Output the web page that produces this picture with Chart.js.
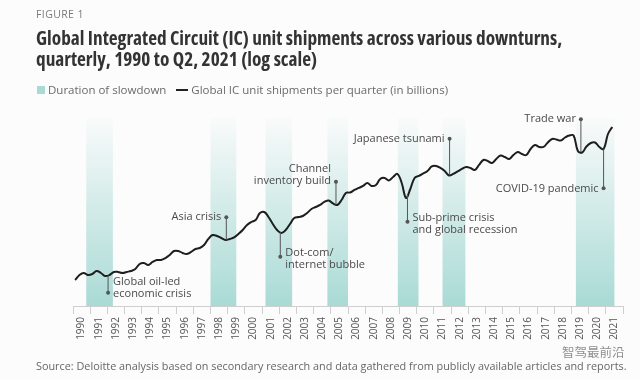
<!DOCTYPE html>
<html>
<head>
<meta charset="utf-8">
<script src="https://cdn.jsdelivr.net/npm/chart.js@4.4.1/dist/chart.umd.min.js"></script>
<style>
body{margin:0;width:640px;height:380px;position:relative;background:#fcfcfc;font-family:"Open Sans",sans-serif;overflow:hidden}
canvas{position:absolute;left:0;top:0}
.fig{position:absolute;left:36px;top:7px;font-size:10.5px;color:#7a7a7a;letter-spacing:.4px}
.title{position:absolute;left:36px;top:27px;font-size:19.3px;font-weight:700;line-height:21px;color:#333;font-stretch:75%;white-space:nowrap}
.legend{position:absolute;left:37px;top:82px;font-size:11.5px;color:#6a6a6a;white-space:nowrap}
.legend .sw{display:inline-block;width:8px;height:8px;background:#a9dad5;margin-right:3px}
.legend .ln{display:inline-block;width:12px;height:2px;background:#222;vertical-align:middle;margin:0 3px 0 10px;position:relative;top:-1px}
.source{position:absolute;left:36px;top:358px;font-size:10.85px;color:#666;white-space:nowrap}
.wm{position:absolute;left:562px;top:342px;font-size:12.5px;color:#8f8f8f;font-family:"Noto Sans CJK SC",sans-serif;text-shadow:0 0 2px #fff}
</style>
</head>
<body>
<canvas id="icChart" width="640" height="380"></canvas>
<div class="fig">FIGURE 1</div>
<div class="title">Global Integrated Circuit (IC) unit shipments across various downturns,<br>quarterly, 1990 to Q2, 2021 (log scale)</div>
<div class="legend"><span class="sw"></span>Duration of slowdown<span class="ln"></span>Global IC unit shipments per quarter (in billions)</div>
<div class="source">Source: Deloitte analysis based on secondary research and data gathered from publicly available articles and reports.</div>
<div class="wm">智驾最前沿</div>
<script>
// tick labels, one per year
const years = ["1990","1991","1992","1993","1994","1995","1996","1997","1998","1999","2000",
"2001","2002","2003","2004","2005","2006","2007","2008","2009","2010",
"2011","2012","2013","2014","2015","2016","2017","2018","2019","2020","2021"];

// quarterly IC units (billions), Q1 1990 .. Q2 2021
const shipments = [
9.08,9.83,10.16,9.83,   // 1990
9.99,10.48,10.15,9.68,  // 1991
9.83,10.32,10.32,10.15, // 1992
10.32,10.48,10.82,11.72,// 1993
11.91,11.53,12.10,12.49,// 1994
12.49,12.89,13.52,14.42,// 1995
14.42,13.97,13.74,14.19,// 1996
14.88,15.12,15.86,17.46,// 1997
18.60,18.31,17.74,17.18,// 1998
17.46,17.88,18.90,20.14,// 1999
21.81,22.88,23.62,26.41,// 2000
26.83,24.78,22.17,20.14,// 2001
19.20,20.14,22.17,24.39,// 2002
24.78,25.18,26.41,28.15,// 2003
29.07,30.01,31.49,32.25,// 2004
30.73,30.01,32.50,36.33,// 2005
36.63,38.11,39.36,40.63,// 2006
42.62,40.63,41.28,45.42,// 2007
46.15,44.35,46.90,49.19,// 2008
42.62,33.55,38.72,46.15,// 2009
47.65,49.58,51.60,55.45,// 2010
55.89,54.14,51.60,48.03,// 2011
49.19,51.19,53.27,55.01,// 2012
54.14,52.43,56.79,61.45,// 2013
60.48,58.58,62.44,66.03,// 2014
64.47,62.44,66.55,69.81,// 2015
67.62,66.55,73.23,78.05,// 2016
75.61,75.61,81.24,85.88,// 2017
85.20,83.86,87.94,90.82,// 2018
90.82,70.93,69.26,76.20,// 2019
80.60,81.24,75.61,73.23,// 2020
93.00,104.0             // 2021
];

// slowdown periods, start and end in fractional years
const slowdownStart = [1990.77,1998.0,2001.2,2004.8,2008.9,2011.5,2019.26];
const slowdownEnd   = [1992.32,1999.5,2002.75,2006.0,2010.1,2012.83,2021.5];

// annotations: year, value of the dot, text lines
const notes = [
  {year:1992.04, dot:7.42,  lines:["Global oil-led","economic crisis"], side:"right", dy:-11},
  {year:1998.92, dot:24.66, lines:["Asia crisis"], side:"left", dy:0},
  {year:2002.06, dot:13.17, lines:["Dot-com/","internet bubble"], side:"right", dy:-4},
  {year:2005.30, dot:43.5,  lines:["Channel","inventory build"], side:"left", dy:-13},
  {year:2009.46, dot:22.99, lines:["Sub-prime crisis","and global recession"], side:"right", dy:-4},
  {year:2011.91, dot:86.3,  lines:["Japanese tsunami"], side:"left", dy:0},
  {year:2019.55, dot:117.6, lines:["Trade war"], side:"left", dy:0},
  {year:2020.87, dot:39.1,  lines:["COVID-19 pandemic"], side:"left", dy:0}
];

const bandsPlugin = {
  id:"bands",
  beforeDatasetsDraw(chart){
    const {ctx, chartArea:a, scales:{x}} = chart;
    const g = ctx.createLinearGradient(0,a.top,0,a.bottom);
    g.addColorStop(0,"rgba(169,218,213,0.03)");
    g.addColorStop(1,"rgba(169,218,213,1)");
    ctx.save();
    ctx.fillStyle = g;
    slowdownStart.forEach((s,i)=>{
      const l = x.getPixelForValue(s), r = x.getPixelForValue(slowdownEnd[i]);
      ctx.fillRect(l,a.top,r-l,a.bottom-a.top);
    });
    ctx.restore();
  }
};

// y of the drawn line at pixel px
function lineYAt(chart, px){
  const pts = chart.getDatasetMeta(0).data;
  for(let i=1;i<pts.length;i++){
    if(pts[i].x>=px){
      const p0=pts[i-1], p1=pts[i], t=(px-p0.x)/(p1.x-p0.x);
      return p0.y+(p1.y-p0.y)*t;
    }
  }
  return pts[pts.length-1].y;
}

const notesPlugin = {
  id:"notes",
  afterDatasetsDraw(chart){
    const {ctx, scales:{x,y}} = chart;
    ctx.save();
    ctx.strokeStyle="#555"; ctx.fillStyle="#555"; ctx.lineWidth=1;
    ctx.font="11px 'Open Sans'";
    ctx.textBaseline="middle";
    notes.forEach(n=>{
      const px = x.getPixelForValue(n.year), py = y.getPixelForValue(n.dot);
      const ly = lineYAt(chart, px);
      ctx.beginPath(); ctx.moveTo(px,py); ctx.lineTo(px,ly); ctx.stroke();
      ctx.beginPath(); ctx.arc(px,py,2,0,Math.PI*2); ctx.fill();
      ctx.fillStyle="#4a4a4a";
      ctx.textAlign = n.side==="right" ? "left" : "right";
      const tx = n.side==="right" ? px+5 : px-5;
      n.lines.forEach((t,k)=>ctx.fillText(t,tx,py+n.dy+k*12));
      ctx.fillStyle="#555";
    });
    ctx.restore();
  }
};

new Chart(document.getElementById("icChart"),{
  type:"line",
  data:{
    datasets:[{
      data:shipments.map((v,i)=>({x:1990+(i+0.5)/4, y:v})),
      borderColor:"#1e1e1e",
      borderWidth:2,
      pointRadius:0,
      tension:0.4,
      fill:false
    }]
  },
  options:{
    responsive:false,
    animation:false,
    layout:{padding:{left:73,right:17,top:118,bottom:14}},
    plugins:{legend:{display:false},tooltip:{enabled:false}},
    scales:{
      x:{
        type:"linear",
        min:1990,
        max:2022,
        afterFit:s=>{s.height=60;},
        border:{color:"#cfcfcf"},
        grid:{drawOnChartArea:false,color:"#cfcfcf",tickLength:8},
        ticks:{
          stepSize:1,
          autoSkip:false,
          minRotation:90,
          maxRotation:90,
          labelOffset:8.6,
          color:"#555",
          font:{family:"Open Sans",size:10},
          callback:v=>years[v-1990] ?? ""
        }
      },
      y:{type:"logarithmic",display:false,min:6,max:120}
    }
  },
  plugins:[bandsPlugin,notesPlugin]
});
</script>
</body>
</html>
